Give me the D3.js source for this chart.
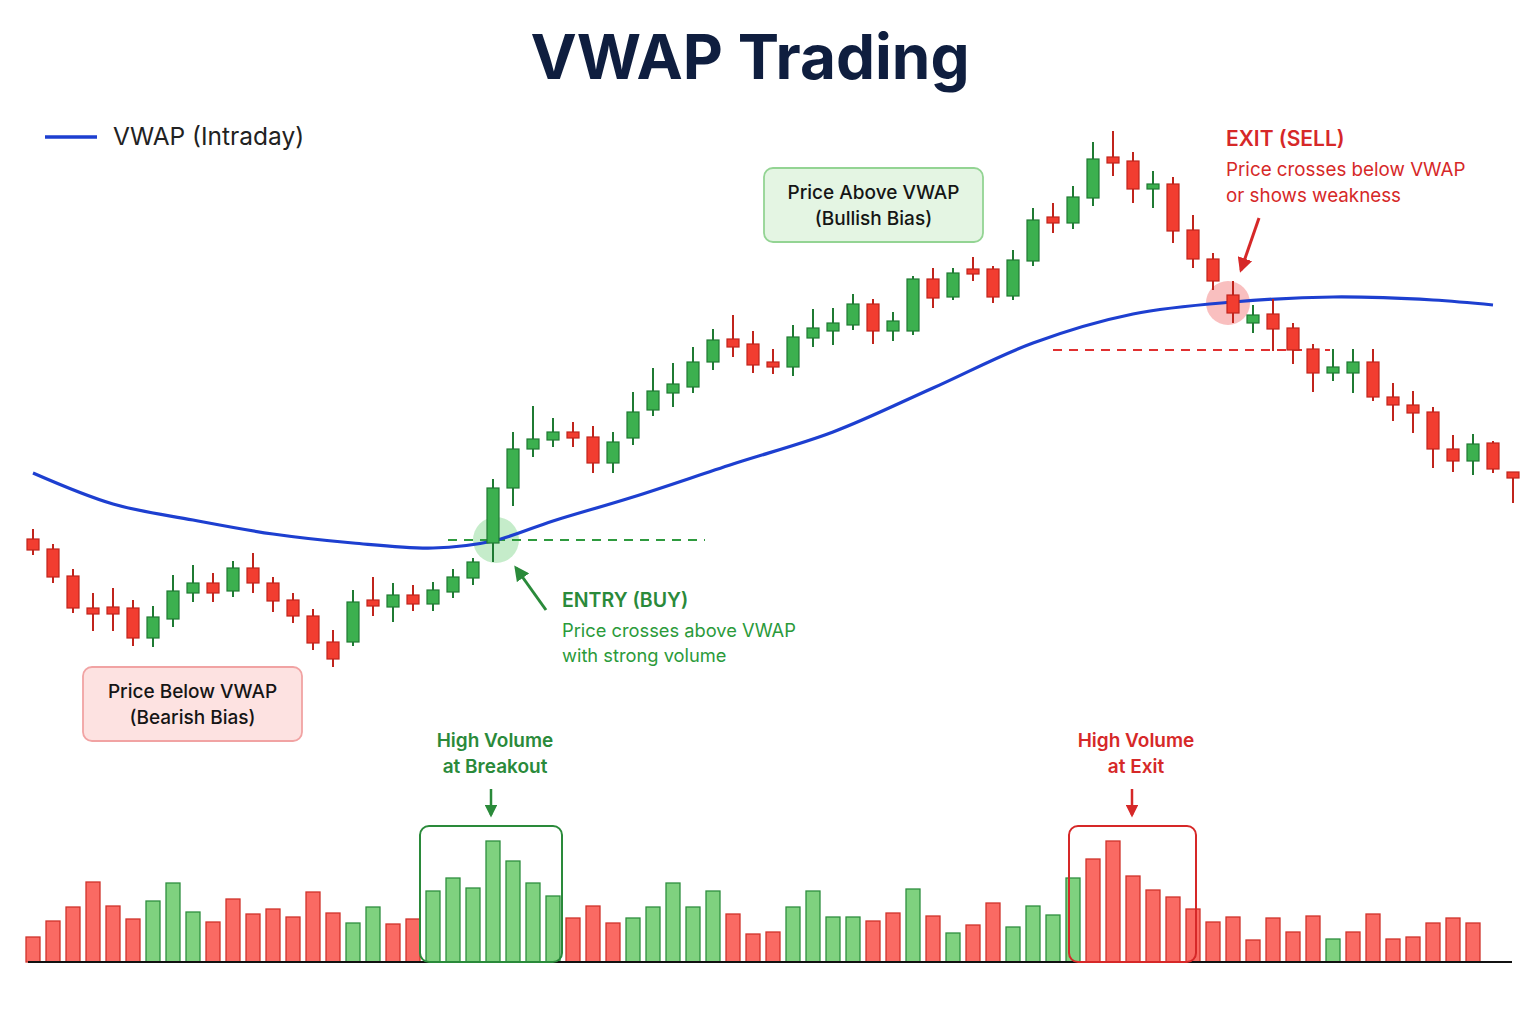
<!DOCTYPE html>
<html>
<head>
<meta charset="utf-8">
<script src="https://cdn.jsdelivr.net/npm/d3@7"></script>
<style>
  html, body { margin: 0; padding: 0; background: #ffffff; }
  svg { display: block; }
  text { font-family: Inter, "Open Sans", "DejaVu Sans", sans-serif; }
</style>
</head>
<body>
<svg id="chart" width="1536" height="1024"></svg>
<script>
// ---------------- DATA ----------------
const openP  = [46.1,45.1,42.4,39.2,39.3,39.2,36.2,38.1,40.7,41.7,40.9,43.2,41.7,40.0,38.4,35.8,35.8,40.0,39.3,40.5,39.6,40.8,42.2,45.7,51.2,55.1,56.0,56.8,56.3,53.7,56.2,59.0,60.7,61.3,63.8,66.1,65.6,63.8,63.3,66.2,66.9,67.5,69.6,66.9,66.9,72.1,70.3,73.1,73.1,70.4,73.9,78.3,77.7,80.2,84.3,83.9,81.1,81.6,77.0,74.1,70.5,67.7,68.6,67.2,65.1,62.7,62.7,63.8,60.3,59.5,58.8,55.1,53.9,55.7,52.8];
const highP  = [47.1,45.6,43.1,40.7,41.2,40.0,39.4,42.5,43.5,42.7,43.9,44.7,42.3,40.7,39.1,37.0,41.0,42.3,41.7,41.5,41.8,43.1,44.2,52.1,56.8,59.4,58.2,57.8,57.4,56.8,60.8,63.2,63.7,65.3,67.1,68.5,66.9,65.1,67.5,69.1,69.2,70.6,70.1,68.8,72.4,73.2,73.2,74.3,73.4,75.0,79.2,79.7,81.4,85.8,86.9,84.8,82.9,82.3,78.5,74.7,71.9,69.5,70.1,67.7,65.6,65.1,65.1,65.1,61.7,60.9,59.3,56.5,56.6,55.9,52.8];
const lowP   = [44.5,41.7,38.7,36.9,36.9,35.4,35.3,37.3,39.8,39.8,40.3,40.7,38.8,37.7,35.0,33.3,35.4,38.4,37.8,38.9,38.9,40.2,41.5,43.8,49.4,54.3,55.3,55.3,52.7,52.7,55.5,58.4,59.3,60.7,63.0,64.3,62.7,62.6,62.4,65.3,65.5,67.0,65.6,65.9,66.5,69.2,70.0,71.9,69.7,70.0,73.4,76.7,77.1,79.4,82.4,79.7,79.2,75.7,73.2,71.0,67.7,66.7,64.9,63.6,60.8,61.9,60.7,59.9,57.9,56.7,53.2,52.8,52.5,52.7,49.7];
const closeP = [45.0,42.3,39.2,38.6,38.6,36.2,38.3,40.9,41.7,40.7,43.2,41.7,39.9,38.4,35.7,34.1,39.8,39.4,40.5,39.6,41.0,42.3,43.8,51.2,55.1,56.1,56.8,56.2,53.7,55.8,58.8,60.9,61.6,63.8,66.0,65.3,63.5,63.3,66.3,67.2,67.7,69.6,66.9,67.9,72.1,70.2,72.7,72.6,70.3,74.0,78.0,77.7,80.3,84.1,83.7,81.1,81.6,76.9,74.1,71.9,68.7,68.5,67.1,65.0,62.7,63.3,63.8,60.3,59.5,58.7,55.1,53.9,55.6,53.1,52.2];

const vwapIdx = [0,4,8,12,16,20,23,26,30,35,40,45,50,55,60,65,70,73];
const vwapVal = [52.7,49.6,48.0,46.6,45.7,45.2,45.9,47.9,50.3,53.6,56.8,61.2,65.7,68.6,69.8,70.3,70.0,69.5];

const volume = [250,410,550,800,560,430,610,790,500,400,630,480,530,450,700,490,390,550,380,430,710,840,740,1210,1010,790,660,440,560,390,440,550,790,550,710,480,280,300,550,710,450,450,410,490,730,460,290,370,590,350,560,470,840,1030,1210,860,720,650,530,400,450,220,440,300,460,230,300,480,230,250,390,440,390];
const volDir = "RRRRRRGGGRRRRRRRGGRRGGGGGGGRRRGGGGGRRRGGGGRRGRGRRGGGGRRRRRRRRRRRRGRRRRRRR".split("");

const entryIdx = 23, entryPrice = 46.0;
const exitIdx = 60, exitPrice = 69.7;
const entryLevel = 46.0, exitLevel = 65.0;
const breakoutRange = [20, 26], exitRange = [52, 58];

// ---------------- SETUP ----------------
const svg = d3.select("#chart");
const n = openP.length;

const x = d3.scaleLinear().domain([0, n - 1]).range([33, 1513]);
const y = d3.scaleLinear().domain([30, 90]).range([700, 100]);
const vy = d3.scaleLinear().domain([0, 1300]).range([962, 832]);

const GREEN = "#3cb04f", GREEN_D = "#1f7a33";
const RED = "#f23d30", RED_D = "#c0241c";
const VG = "#7fd17f", VG_D = "#2f8f3f";
const VR = "#fa6a63", VR_D = "#d0332b";
const BLUE = "#1d3fd0";

const defs = svg.append("defs");
function marker(id, color) {
  defs.append("marker").attr("id", id).attr("viewBox", "0 0 10 10")
    .attr("refX", 8).attr("refY", 5).attr("markerWidth", 5).attr("markerHeight", 5)
    .attr("orient", "auto-start-reverse")
    .append("path").attr("d", "M0,0 L10,5 L0,10 z").attr("fill", color);
}
marker("arrG", "#2a8a3a");
marker("arrR", "#d62828");

// ---------------- TITLE ----------------
svg.append("text").attr("x", 750).attr("y", 79).attr("text-anchor", "middle")
  .attr("font-size", 62).attr("font-weight", 700).attr("fill", "#0f1e3f")
  .text("VWAP Trading");

// legend
svg.append("line").attr("x1", 45).attr("x2", 97).attr("y1", 137).attr("y2", 137)
  .attr("stroke", BLUE).attr("stroke-width", 3.5);
svg.append("text").attr("x", 113).attr("y", 145).attr("font-size", 24.5).attr("fill", "#222")
  .text("VWAP (Intraday)");

// ---------------- HIGHLIGHT CIRCLES ----------------
svg.append("circle").attr("cx", x(entryIdx) + 3).attr("cy", y(entryPrice)).attr("r", 23)
  .attr("fill", "#6fcf7a").attr("fill-opacity", 0.4);
svg.append("circle").attr("cx", x(exitIdx) - 5).attr("cy", y(exitPrice)).attr("r", 22)
  .attr("fill", "#f27070").attr("fill-opacity", 0.45);

// dashed levels
svg.append("line").attr("x1", x(entryIdx) - 45).attr("x2", 705)
  .attr("y1", y(entryLevel)).attr("y2", y(entryLevel))
  .attr("stroke", "#2e9a3e").attr("stroke-width", 2).attr("stroke-dasharray", "9,7");
svg.append("line").attr("x1", 1053).attr("x2", 1330)
  .attr("y1", y(exitLevel)).attr("y2", y(exitLevel))
  .attr("stroke", "#e03030").attr("stroke-width", 2).attr("stroke-dasharray", "9,7");

// ---------------- VWAP LINE ----------------
const vwapPts = vwapIdx.map((d, i) => [x(d), y(vwapVal[i])]);
svg.append("path").attr("d", d3.line().curve(d3.curveCatmullRom.alpha(0.5))(vwapPts))
  .attr("fill", "none").attr("stroke", BLUE).attr("stroke-width", 3.2);

// ---------------- CANDLES ----------------
const candles = d3.range(n).map(i => ({ i, o: openP[i], h: highP[i], l: lowP[i], c: closeP[i] }));
const cg = svg.append("g");
const bw = 12;
cg.selectAll("line.wick").data(candles).join("line")
  .attr("x1", d => x(d.i)).attr("x2", d => x(d.i))
  .attr("y1", d => y(d.h)).attr("y2", d => y(d.l))
  .attr("stroke", d => d.c >= d.o ? GREEN_D : RED_D).attr("stroke-width", 2);
cg.selectAll("rect.body").data(candles).join("rect")
  .attr("x", d => x(d.i) - bw / 2).attr("width", bw)
  .attr("y", d => y(Math.max(d.o, d.c)))
  .attr("height", d => Math.max(2, Math.abs(y(d.o) - y(d.c))))
  .attr("fill", d => d.c >= d.o ? GREEN : RED)
  .attr("stroke", d => d.c >= d.o ? GREEN_D : RED_D).attr("stroke-width", 1.2);

// ---------------- VOLUME ----------------
const vg = svg.append("g");
const vbw = 14;
vg.selectAll("rect").data(volume).join("rect")
  .attr("x", (d, i) => x(i) - vbw / 2).attr("width", vbw)
  .attr("y", d => vy(d)).attr("height", d => vy(0) - vy(d))
  .attr("fill", (d, i) => volDir[i] === "G" ? VG : VR)
  .attr("stroke", (d, i) => volDir[i] === "G" ? VG_D : VR_D).attr("stroke-width", 1.3);

svg.append("line").attr("x1", 28).attr("x2", 1512).attr("y1", vy(0)).attr("y2", vy(0))
  .attr("stroke", "#111").attr("stroke-width", 2);

// volume highlight boxes
svg.append("rect").attr("x", x(breakoutRange[0]) - 13).attr("y", 826)
  .attr("width", x(breakoutRange[1]) - x(breakoutRange[0]) + 22).attr("height", vy(0) - 826)
  .attr("rx", 9).attr("fill", "none").attr("stroke", "#2a8a3a").attr("stroke-width", 2);
svg.append("rect").attr("x", x(exitRange[0]) - 4).attr("y", 826)
  .attr("width", x(exitRange[1]) - x(exitRange[0]) + 7).attr("height", vy(0) - 826)
  .attr("rx", 9).attr("fill", "none").attr("stroke", "#d62828").attr("stroke-width", 2);

// ---------------- ANNOTATIONS ----------------
function box(cx, cy, w, h, fill, stroke, lines) {
  svg.append("rect").attr("x", cx - w / 2).attr("y", cy - h / 2).attr("width", w).attr("height", h)
    .attr("rx", 9).attr("fill", fill).attr("stroke", stroke).attr("stroke-width", 1.8);
  lines.forEach((t, k) => svg.append("text").attr("x", cx).attr("y", cy - 6 + k * 26)
    .attr("text-anchor", "middle").attr("font-size", 19).attr("font-weight", 500).attr("fill", "#151515").text(t));
}
box(873.5, 205, 219, 74, "#e4f5e3", "#93d493", ["Price Above VWAP", "(Bullish Bias)"]);
box(192.5, 704, 219, 74, "#fde2e1", "#f1a3a3", ["Price Below VWAP", "(Bearish Bias)"]);

// entry annotation
svg.append("line").attr("x1", 546).attr("y1", 610).attr("x2", 516).attr("y2", 568)
  .attr("stroke", "#2a8a3a").attr("stroke-width", 3).attr("marker-end", "url(#arrG)");
svg.append("text").attr("x", 562).attr("y", 607).attr("font-size", 19.5).attr("font-weight", 600)
  .attr("fill", "#2a8a3a").text("ENTRY (BUY)");
svg.append("text").attr("x", 562).attr("y", 637).attr("font-size", 18.3).attr("fill", "#2a9a3a")
  .text("Price crosses above VWAP");
svg.append("text").attr("x", 562).attr("y", 662).attr("font-size", 18.3).attr("fill", "#2a9a3a")
  .text("with strong volume");

// exit annotation
svg.append("line").attr("x1", 1259).attr("y1", 218).attr("x2", 1241).attr("y2", 270)
  .attr("stroke", "#d62828").attr("stroke-width", 3).attr("marker-end", "url(#arrR)");
svg.append("text").attr("x", 1226).attr("y", 146).attr("font-size", 21).attr("font-weight", 600)
  .attr("fill", "#d62828").text("EXIT (SELL)");
svg.append("text").attr("x", 1226).attr("y", 176).attr("font-size", 18.8).attr("fill", "#d62828")
  .text("Price crosses below VWAP");
svg.append("text").attr("x", 1226).attr("y", 202).attr("font-size", 18.8).attr("fill", "#d62828")
  .text("or shows weakness");

// volume labels
function volLabel(cx, color, lines) {
  lines.forEach((t, k) => svg.append("text").attr("x", cx).attr("y", 747 + k * 26)
    .attr("text-anchor", "middle").attr("font-size", 19).attr("font-weight", 600).attr("fill", color).text(t));
  const m = color === "#2a8a3a" ? "arrG" : "arrR";
  svg.append("line").attr("x1", cx - 4).attr("x2", cx - 4).attr("y1", 789).attr("y2", 815)
    .attr("stroke", color).attr("stroke-width", 2.5).attr("marker-end", `url(#${m})`);
}
volLabel(495, "#2a8a3a", ["High Volume", "at Breakout"]);
volLabel(1136, "#d62828", ["High Volume", "at Exit"]);
</script>
</body>
</html>
